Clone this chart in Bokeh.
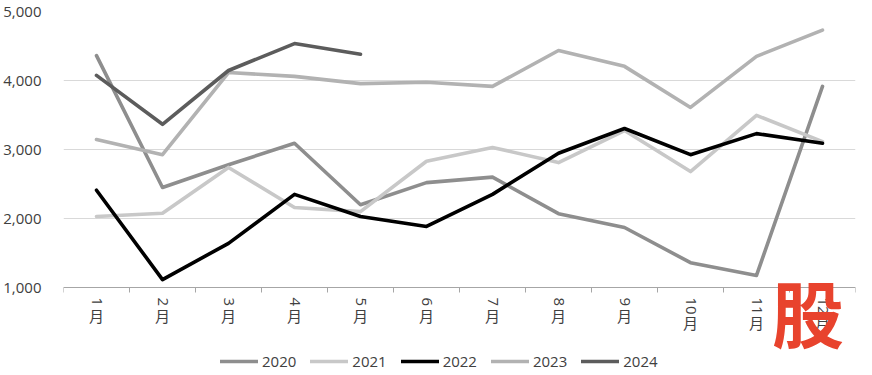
import numpy as np
from bokeh.plotting import figure
from bokeh.models import (Range1d, FixedTicker, NumeralTickFormatter, LabelSet,
                          ColumnDataSource, Legend, LegendItem, Label)
from bokeh.core.properties import value
from bokeh.embed import file_html
from bokeh.resources import INLINE

# ---------------- data ----------------
months = ["1月", "2月", "3月", "4月", "5月", "6月", "7月", "8月", "9月", "10月", "11月", "12月"]
month_nums = ["1", "2", "3", "4", "5", "6", "7", "8", "9", "10", "11", "12"]
years = ["2020", "2021", "2022", "2023", "2024"]
s2020 = [4360, 2450, 2780, 3090, 2200, 2520, 2600, 2070, 1870, 1360, 1175, 3915]
s2021 = [2030, 2075, 2740, 2160, 2100, 2830, 3030, 2810, 3275, 2680, 3495, 3115]
s2022 = [2410, 1115, 1640, 2350, 2030, 1885, 2350, 2945, 3305, 2925, 3230, 3090]
s2023 = [3145, 2925, 4115, 4060, 3955, 3975, 3915, 4435, 4205, 3610, 4350, 4730]
s2024 = [4075, 3365, 4145, 4535, 4380]
y_ticks = [1000, 2000, 3000, 4000, 5000]

series = [s2020, s2021, s2022, s2023, s2024]
colors = ["#8e8e8e", "#c8c8c8", "#000000", "#b2b2b2", "#5c5c5c"]

FONT = "Open Sans"
TXT = "#404040"

W, H = 856, 371
BL, BR, BT = 55, 1, 11
plot_px = 276                      # pixel height of the 1,000-5,000 band
frame_h = H - BT
y_lo = y_ticks[-1] - (y_ticks[-1] - y_ticks[0]) * frame_h / plot_px

xpos = np.arange(len(months)) + 0.5

p = figure(width=W, height=H, output_backend="svg", toolbar_location=None,
           x_range=Range1d(0, len(months)), y_range=Range1d(y_lo, y_ticks[-1]),
           min_border_left=BL, min_border_right=BR, min_border_top=BT, min_border_bottom=0)
p.outline_line_color = None
p.background_fill_color = "white"
p.border_fill_color = "white"

# y axis
p.yaxis.ticker = FixedTicker(ticks=y_ticks)
p.yaxis.formatter = NumeralTickFormatter(format="0,0")
p.yaxis.axis_line_color = None
p.yaxis.major_tick_line_color = None
p.yaxis.minor_tick_line_color = None
p.yaxis.major_label_standoff = 16
p.yaxis.major_label_text_font = FONT
p.yaxis.major_label_text_font_size = "15px"
p.yaxis.major_label_text_color = TXT

# x axis sits at y = 1,000 (ticks between categories)
bounds = list(range(len(months) + 1))
p.xaxis.fixed_location = y_ticks[0]
p.xaxis.ticker = FixedTicker(ticks=bounds)
p.xaxis.major_label_overrides = {b: "" for b in bounds}
p.xaxis.axis_line_color = "#a6a6a6"
p.xaxis.major_tick_line_color = "#a6a6a6"
p.xaxis.major_tick_in = 0
p.xaxis.major_tick_out = 5
p.xaxis.minor_tick_line_color = None

p.xgrid.grid_line_color = None
p.ygrid.ticker = FixedTicker(ticks=y_ticks)
p.ygrid.grid_line_color = "#d9d9d9"

# lines
renderers = []
for vals, col in zip(series, colors):
    r = p.line(xpos[:len(vals)], vals, line_width=3.6, line_color=col,
               line_join="round", line_cap="round")
    renderers.append(r)

# category labels (vertical CJK style: rotated digits, upright 月)
lab_src = ColumnDataSource(dict(
    x=xpos,
    y=[y_ticks[0]] * len(months),
    num=month_nums,
    yue=[m[len(n):] for m, n in zip(months, month_nums)],
    yo=[-(20 + 7.5 * len(n)) for n in month_nums],
))
p.add_layout(LabelSet(x="x", y="y", text="num", source=lab_src, angle=-np.pi / 2,
                      text_align="left", text_baseline="middle", y_offset=-10,
                      text_font=value(FONT), text_font_size="15px", text_color=TXT))
p.add_layout(LabelSet(x="x", y="y", text="yue", source=lab_src,
                      text_align="center", text_baseline="middle", y_offset="yo",
                      text_font=value("Noto Sans CJK SC"), text_font_size="15px",
                      text_color=TXT))

# legend
legend = Legend(items=[LegendItem(label=yr, renderers=[r]) for yr, r in zip(years, renderers)],
                orientation="horizontal", location=(157, 0), padding=0, margin=0,
                spacing=14, glyph_width=38, glyph_height=14, label_height=14,
                label_standoff=4, label_text_font=FONT, label_text_font_size="15px",
                label_text_color=TXT, border_line_color=None, background_fill_alpha=0)
p.add_layout(legend)

# watermark
p.add_layout(Label(x=11.28, y=y_ticks[0], y_offset=-23, text="股", text_align="center",
                   text_baseline="middle", text_font="Noto Sans CJK SC",
                   text_font_style="bold", text_font_size="72px", text_color="#e8432d"))

open("out.html", "w").write(file_html(p, INLINE))
